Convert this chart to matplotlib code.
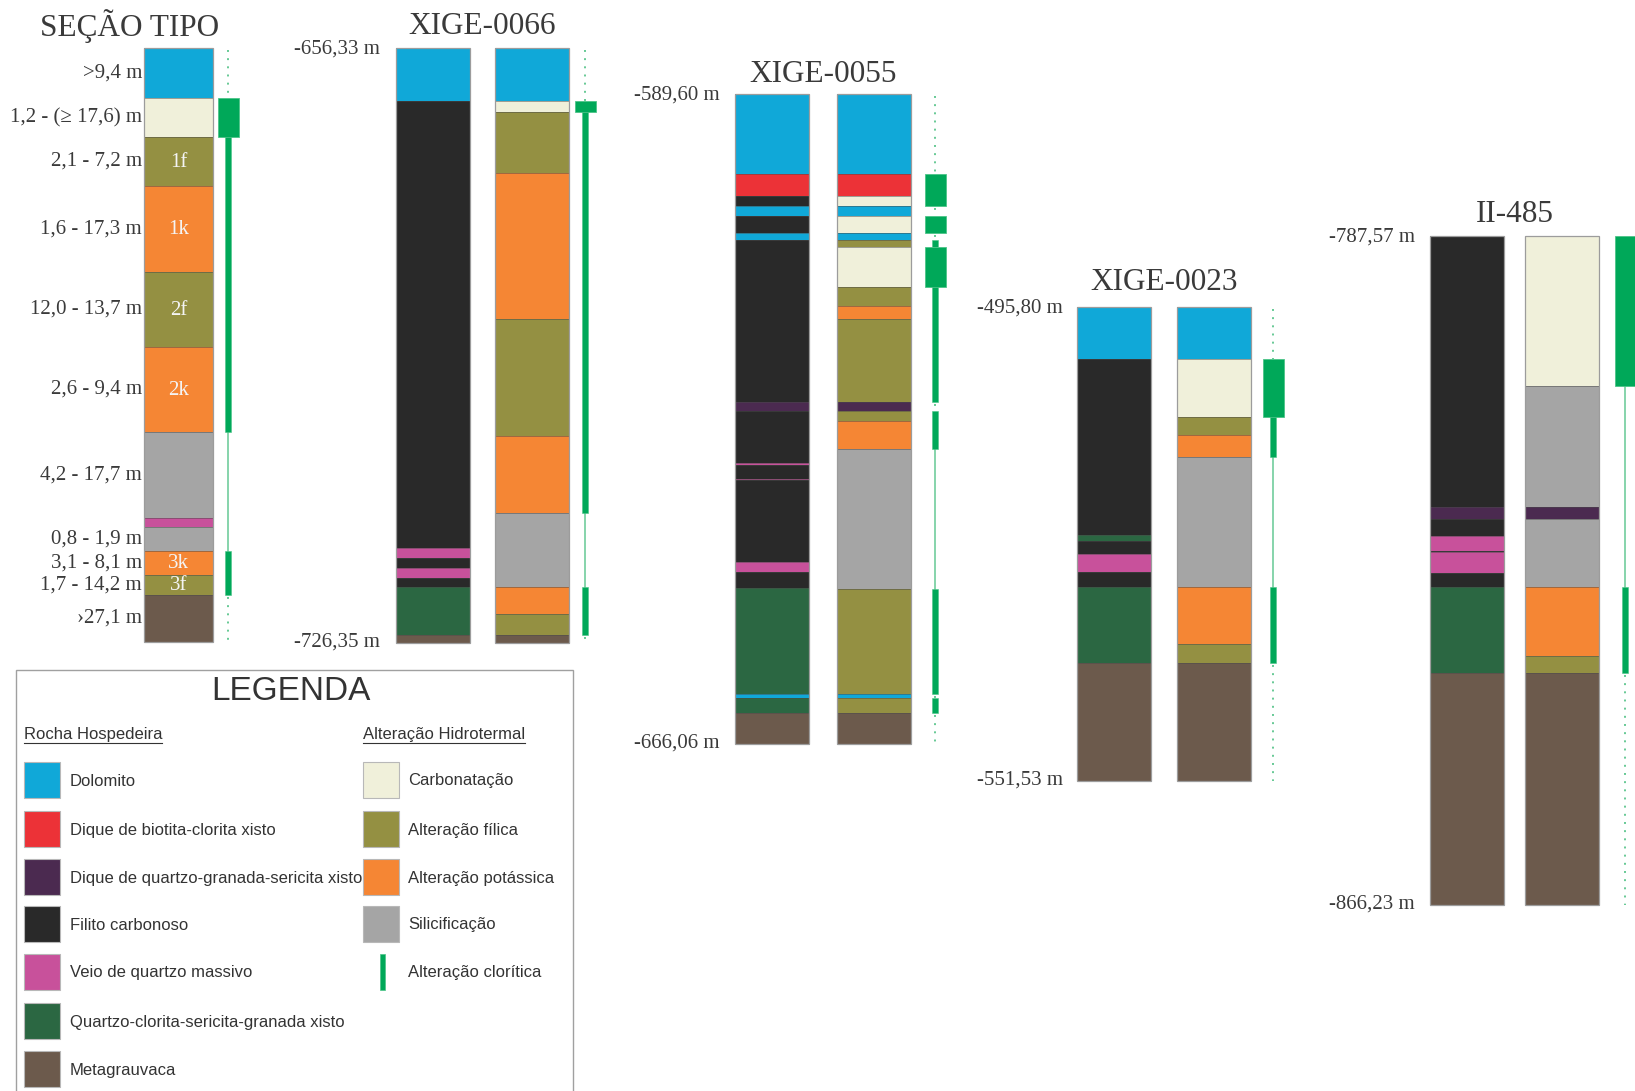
import matplotlib.pyplot as plt
from matplotlib.patches import Rectangle

# lithology / alteration colours
COLORS = {
    'dol': '#10a8d8',   # Dolomito
    'bio': '#ec3237',   # Dique de biotita-clorita xisto
    'qgs': '#4b2a50',   # Dique de quartzo-granada-sericita xisto
    'fil': '#292929',   # Filito carbonoso
    'vq': '#c8519b',    # Veio de quartzo massivo
    'qcsg': '#2b6742',  # Quartzo-clorita-sericita-granada xisto
    'mgv': '#6c5a4c',   # Metagrauvaca
    'carb': '#f0f0da',  # Carbonatação
    'fili': '#949042',  # Alteração fílica
    'pot': '#f58634',   # Alteração potássica
    'sil': '#a5a5a5',   # Silicificação
}
CHL = '#00a859'
CHL_LIGHT = '#66c995'

# ---- seção tipo (schematic thickness units) ----
tipo_units = [
    ('dol', 50, '>9,4 m', ''),
    ('carb', 39, '1,2 - (≥ 17,6) m', ''),
    ('fili', 49, '2,1 - 7,2 m', '1f'),
    ('pot', 86, '1,6 - 17,3 m', '1k'),
    ('fili', 75, '12,0 - 13,7 m', '2f'),
    ('pot', 85, '2,6 - 9,4 m', '2k'),
    ('sil', 86, '4,2 - 17,7 m', ''),
    ('vq', 9, '', ''),
    ('sil', 24, '0,8 - 1,9 m', ''),
    ('pot', 24, '3,1 - 8,1 m', '3k'),
    ('fili', 20, '1,7 - 14,2 m', '3f'),
    ('mgv', 47, '›27,1 m', ''),
]
tipo_chlorite = [('dot', 50), ('wide', 39), ('thick', 295), ('thin', 119),
                 ('thick', 44), ('dot', 47)]

# ---- drill holes: (code, base elevation in m) ----
x66_top, x66_bottom = -656.33, -726.35
x66_rock = [('dol', -662.56), ('fil', -715.19), ('vq', -716.36), ('fil', -717.54),
            ('vq', -718.71), ('fil', -719.77), ('qcsg', -725.41), ('mgv', -726.35)]
x66_alt = [('dol', -662.56), ('carb', -663.85), ('fili', -671.02), ('pot', -688.17),
           ('fili', -702.03), ('pot', -711.08), ('sil', -719.77), ('pot', -722.94),
           ('fili', -725.41), ('mgv', -726.35)]
x66_chl = [('dot', -662.56), ('wide', -663.85), ('thick', -711.08), ('thin', -719.77),
           ('thick', -725.41), ('dot', -726.35)]

x55_top, x55_bottom = -589.60, -666.06
x55_rock = [('dol', -599.02), ('bio', -601.62), ('fil', -602.79), ('dol', -603.97),
            ('fil', -605.98), ('dol', -606.80), ('fil', -625.89), ('qgs', -626.95),
            ('fil', -633.07), ('vq', -633.22), ('fil', -634.84), ('vq', -634.99),
            ('fil', -644.62), ('vq', -645.80), ('fil', -647.68), ('qcsg', -660.17),
            ('dol', -660.64), ('qcsg', -662.41), ('mgv', -666.06)]
x55_alt = [('dol', -599.02), ('bio', -601.62), ('carb', -602.79), ('dol', -603.97),
           ('carb', -605.98), ('dol', -606.80), ('fili', -607.62), ('carb', -612.34),
           ('fili', -614.58), ('pot', -616.11), ('fili', -625.89), ('qgs', -626.95),
           ('fili', -628.12), ('pot', -631.42), ('sil', -647.80), ('fili', -660.17),
           ('dol', -660.64), ('fili', -662.41), ('mgv', -666.06)]
x55_chl = [('dot', -599.02), ('wide', -602.79), ('dot', -603.97), ('wide', -605.98),
           ('dot', -606.80), ('thick', -607.62), ('wide', -612.34), ('thick', -625.89),
           ('dot', -626.95), ('thick', -631.42), ('thin', -647.80), ('thick', -660.17),
           ('dot', -660.64), ('thick', -662.41), ('dot', -666.06)]

x23_top, x23_bottom = -495.80, -551.53
x23_rock = [('dol', -501.91), ('fil', -522.61), ('qcsg', -523.31), ('fil', -524.84),
            ('vq', -526.96), ('fil', -528.72), ('qcsg', -537.66), ('mgv', -551.53)]
x23_alt = [('dol', -501.91), ('carb', -508.73), ('fili', -510.85), ('pot', -513.44),
           ('sil', -528.72), ('pot', -535.42), ('fili', -537.66), ('mgv', -551.53)]
x23_chl = [('dot', -501.91), ('wide', -508.73), ('thick', -513.44), ('thin', -528.72),
           ('thick', -537.66), ('dot', -551.53)]

ii_top, ii_bottom = -787.57, -866.23
ii_rock = [('fil', -819.48), ('qgs', -820.89), ('fil', -822.90), ('vq', -824.66),
           ('fil', -824.78), ('vq', -827.25), ('fil', -828.90), ('qcsg', -839.03),
           ('mgv', -866.23)]
ii_alt = [('carb', -805.23), ('sil', -819.48), ('qgs', -820.89), ('sil', -828.90),
          ('pot', -837.03), ('fili', -839.03), ('mgv', -866.23)]
ii_chl = [('wide', -805.23), ('thin', -828.90), ('thick', -839.03), ('dot', -866.23)]

rock_legend = [('dol', 'Dolomito'), ('bio', 'Dique de biotita-clorita xisto'),
               ('qgs', 'Dique de quartzo-granada-sericita xisto'),
               ('fil', 'Filito carbonoso'), ('vq', 'Veio de quartzo massivo'),
               ('qcsg', 'Quartzo-clorita-sericita-granada xisto'),
               ('mgv', 'Metagrauvaca')]
alt_legend = [('carb', 'Carbonatação'), ('fili', 'Alteração fílica'),
              ('pot', 'Alteração potássica'), ('sil', 'Silicificação'),
              ('chl', 'Alteração clorítica')]

SERIF = 'Liberation Serif'
SANS = 'Liberation Sans'
TXT = '#3a3a3a'
PX_PER_M = 8.5

fig = plt.figure(figsize=(16.35, 10.91), dpi=100)
ax = fig.add_axes([0, 0, 1, 1])
ax.set_xlim(0, 1635)
ax.set_ylim(1091, 0)
ax.axis('off')


def to_bases(pairs):
    # thickness list -> cumulative (negative) bases
    out, acc = [], 0
    for code, th in pairs:
        acc -= th
        out.append((code, acc))
    return out


def draw_column(x, y0, scale, top, intervals, width=74):
    cur = top
    ys = []
    for code, base in intervals:
        ya = y0 + (top - cur) * scale
        yb = y0 + (top - base) * scale
        ax.add_patch(Rectangle((x, ya), width, yb - ya, facecolor=COLORS[code],
                               edgecolor='none', zorder=2))
        ys.append(yb)
        cur = base
    for yb in ys[:-1]:
        ax.plot([x, x + width], [yb, yb], color='#4a4a4a', lw=0.5, alpha=0.7, zorder=3)
    ax.add_patch(Rectangle((x, y0), width, (top - cur) * scale, fill=False,
                           edgecolor='#9c9c9c', lw=0.9, zorder=4))


def draw_chlorite(xc, y0, scale, top, segments):
    cur = top
    for style, base in segments:
        ya = y0 + (top - cur) * scale
        yb = y0 + (top - base) * scale
        if style == 'wide':
            ax.add_patch(Rectangle((xc - 10.5, ya), 21, yb - ya, facecolor=CHL,
                                   edgecolor='#4cc488', lw=0.6, zorder=3))
        elif style == 'thick':
            ax.add_patch(Rectangle((xc - 3.4, ya), 6.8, yb - ya, facecolor=CHL,
                                   edgecolor='#4cc488', lw=0.4, zorder=3))
        elif style == 'thin':
            ax.plot([xc, xc], [ya, yb], color=CHL_LIGHT, lw=1.1, zorder=2)
        else:
            ax.plot([xc, xc], [ya + 2, yb], color=CHL_LIGHT, lw=1.4,
                    ls=(0, (1, 3.2)), zorder=2)
        cur = base


# seção tipo
draw_column(144, 48, 1.0, 0, to_bases([(c, th) for c, th, _, _ in tipo_units]), width=69)
draw_chlorite(228, 48, 1.0, 0, to_bases(tipo_chlorite))
acc = 0
for code, th, rng, short in tipo_units:
    yc = 48 + acc + th / 2
    if rng:
        ax.text(142, yc, rng, ha='right', va='center', family=SERIF, fontsize=15, color=TXT)
    if short:
        ax.text(178.5, yc + 1, short, ha='center', va='center', family=SERIF,
                fontsize=15, color='#f4f4f4', zorder=5)
    acc += th
ax.text(130, 26, 'SEÇÃO TIPO', ha='center', va='center', family=SERIF,
        fontsize=22.5, color=TXT)

# drill holes: name, top, bottom, rock, alteration, chlorite,
# x of rock column, x of alteration column, x of chlorite bar, y of top, y of title, x of depth labels
holes = [
    ('XIGE-0066', x66_top, x66_bottom, x66_rock, x66_alt, x66_chl, 396, 495, 585, 48, 27, 380),
    ('XIGE-0055', x55_top, x55_bottom, x55_rock, x55_alt, x55_chl, 735, 837, 935, 94, 74, 720),
    ('XIGE-0023', x23_top, x23_bottom, x23_rock, x23_alt, x23_chl, 1077, 1177, 1273, 307, 283, 1063),
    ('II-485', ii_top, ii_bottom, ii_rock, ii_alt, ii_chl, 1430, 1525, 1625, 236, 214, 1415),
]
for name, top, bot, rock, alt, chl, x1, x2, xc, y0, yt, xl in holes:
    draw_column(x1, y0, PX_PER_M, top, rock)
    draw_column(x2, y0, PX_PER_M, top, alt)
    draw_chlorite(xc, y0, PX_PER_M, top, chl)
    ybot = y0 + (top - bot) * PX_PER_M
    ax.text((x1 + x2 + 74) / 2, yt, name, ha='center', va='center', family=SERIF,
            fontsize=22.5, color=TXT)
    ax.text(xl, y0 + 1, f'{top:.2f} m'.replace('.', ','), ha='right', va='center',
            family=SERIF, fontsize=15, color=TXT)
    ax.text(xl, ybot - 1, f'{bot:.2f} m'.replace('.', ','), ha='right', va='center',
            family=SERIF, fontsize=15, color=TXT)

# legend box
ax.plot([16, 16, 573, 573], [1095, 670, 670, 1095], color='#a0a0a0', lw=1.0,
        solid_joinstyle='miter')
ax.text(291, 692, 'LEGENDA', ha='center', va='center', family=SANS, fontsize=24,
        color='#333333')
heads = []
for xh, head in [(24, 'Rocha Hospedeira'), (363, 'Alteração Hidrotermal')]:
    heads.append(ax.text(xh, 734, head, ha='left', va='center', family=SANS,
                         fontsize=12, color='#333333'))
fig.canvas.draw()
r = fig.canvas.get_renderer()
inv = ax.transData.inverted()
for t in heads:
    bb = t.get_window_extent(r)
    x0, _ = inv.transform((bb.x0, 0))
    x1, _ = inv.transform((bb.x1, 0))
    ax.plot([x0, x1], [743, 743], color='#333333', lw=0.8)

row_y = [780, 829, 877, 924, 972, 1021, 1069]
for (code, label), yc in zip(rock_legend, row_y):
    ax.add_patch(Rectangle((24, yc - 18), 36, 36, facecolor=COLORS[code],
                           edgecolor='#b8b8b8', lw=0.8))
    ax.text(70, yc + 1, label, ha='left', va='center', family=SANS, fontsize=12,
            color='#333333')
for (code, label), yc in zip(alt_legend, row_y):
    if code == 'chl':
        ax.add_patch(Rectangle((379.5, yc - 18), 5.5, 36, facecolor=CHL,
                               edgecolor='#4cc488', lw=0.5))
    else:
        ax.add_patch(Rectangle((363, yc - 18), 36, 36, facecolor=COLORS[code],
                               edgecolor='#b8b8b8', lw=0.8))
    ax.text(408, yc + 1, label, ha='left', va='center', family=SANS, fontsize=12,
            color='#333333')

fig.savefig('out.png', dpi=100)
